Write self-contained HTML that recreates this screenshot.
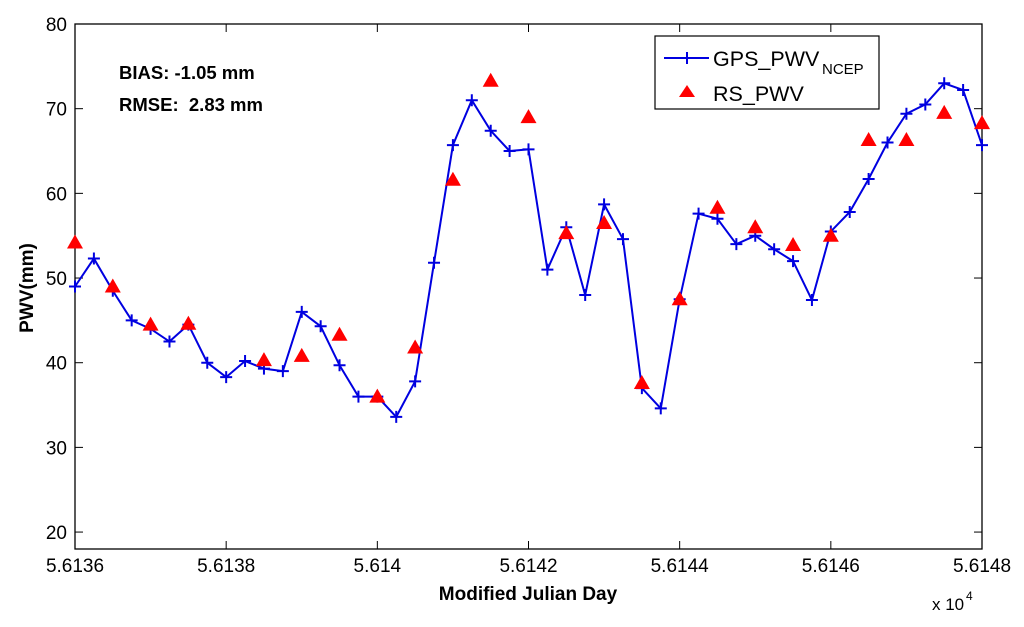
<!DOCTYPE html>
<html><head><meta charset="utf-8"><style>
body{margin:0;background:#fff;}
svg{display:block;font-family:"Liberation Sans",Arial,sans-serif;}
</style></head><body>
<svg id="chart" width="1024" height="627" viewBox="0 0 1024 627">
<rect x="0" y="0" width="1024" height="627" fill="#fff"/>
<g id="plot"></g>
</svg>
<script>
const gpsDays=[56136,56136.25,56136.5,56136.75,56137,56137.25,56137.5,56137.75,56138,56138.25,56138.5,56138.75,56139,56139.25,56139.5,56139.75,56140,56140.25,56140.5,56140.75,56141,56141.25,56141.5,56141.75,56142,56142.25,56142.5,56142.75,56143,56143.25,56143.5,56143.75,56144,56144.25,56144.5,56144.75,56145,56145.25,56145.5,56145.75,56146,56146.25,56146.5,56146.75,56147,56147.25,56147.5,56147.75,56148];
const gpsValues=[49,52.3,48.5,45,44,42.5,44.5,40,38.3,40.2,39.3,39,46,44.3,39.7,36,36,33.6,37.8,51.8,65.7,71,67.4,65,65.2,51,56,48,58.7,54.6,37,34.6,47.5,57.6,57,54,55,53.4,52,47.4,55.5,57.8,61.7,66,69.4,70.5,73,72.2,65.7];
const rsDays=[56136,56136.5,56137,56137.5,56138.5,56139,56139.5,56140,56140.5,56141,56141.5,56142,56142.5,56143,56143.5,56144,56144.5,56145,56145.5,56146,56146.5,56147,56147.5,56148];
const rsValues=[54.2,49,44.5,44.6,40.3,40.8,43.3,36,41.8,61.6,73.3,69,55.3,56.5,37.6,47.5,58.3,56,53.9,55,66.3,66.3,69.5,68.3];
const yTicks=[20,30,40,50,60,70,80];
const xTicks=[56136,56138,56140,56142,56144,56146,56148];
const xTickLabels=["5.6136","5.6138","5.614","5.6142","5.6144","5.6146","5.6148"];

const L=75,R=982,T=24,B=549,XMIN=56136,XMAX=56148,YMIN=18,YMAX=80;
const sx=d=>L+(d-XMIN)/(XMAX-XMIN)*(R-L);
const sy=v=>B-(v-YMIN)/(YMAX-YMIN)*(B-T);
const NS="http://www.w3.org/2000/svg";
const g=document.getElementById('plot');
function mk(t,a,txt){const e=document.createElementNS(NS,t);for(const k in a)e.setAttribute(k,a[k]);if(txt!==undefined)e.textContent=txt;g.appendChild(e);return e;}

let e=mk('rect',{x:L,y:T,width:R-L,height:B-T,fill:'none',stroke:'#000','stroke-width':1.3});


yTicks.forEach(v=>{
  const y=sy(v);
  let t=mk('line',{x1:L,x2:L+8,y1:y,y2:y,stroke:'#000'});
  
  
  mk('line',{x1:R-8,x2:R,y1:y,y2:y,stroke:'#000'});
  let l=mk('text',{x:L-8,y:y+7,'text-anchor':'end','font-size':19},String(v));
  
  
});
xTicks.forEach((d,i)=>{
  const x=sx(d);
  let t=mk('line',{x1:x,x2:x,y1:B,y2:B-8,stroke:'#000'});
  
  
  mk('line',{x1:x,x2:x,y1:T,y2:T+8,stroke:'#000'});
  let l=mk('text',{x:x,y:B+23,'text-anchor':'middle','font-size':19},xTickLabels[i]);
  
  
});
let xt=mk('text',{x:528,y:600,'text-anchor':'middle','font-size':19,'font-weight':'bold'},'Modified Julian Day');


let yt=mk('text',{x:0,y:0,'text-anchor':'middle','font-size':19,'font-weight':'bold',transform:'translate(33,288) rotate(-90)'},'PWV(mm)');


let ex=mk('text',{x:932,y:610,'font-size':17},'x 10');


mk('text',{x:966,y:600,'font-size':12},'4');
let b1=mk('text',{x:119,y:79,'font-size':18.5,'font-weight':'bold'},'BIAS: -1.05 mm');


let b2=mk('text',{x:119,y:111,'font-size':18.5,'font-weight':'bold','xml:space':'preserve'},'RMSE:  2.83 mm');


b2.style.whiteSpace='pre';

let pts=gpsDays.map((d,i)=>sx(d)+','+sy(gpsValues[i])).join(' ');
let pl=mk('polyline',{points:pts,fill:'none',stroke:'#0000e0','stroke-width':2});


gpsDays.forEach((d,i)=>{
  const x=sx(d),y=sy(gpsValues[i]);
  let p=mk('path',{d:`M${x-6},${y}H${x+6}M${x},${y-6}V${y+6}`,stroke:'#0000e0','stroke-width':2});
  
  
});
rsDays.forEach((d,i)=>{
  const x=sx(d),y=sy(rsValues[i]);
  let p=mk('path',{d:`M${x},${y-8}L${x+8},${y+6}L${x-8},${y+6}Z`,fill:'#ff0000'});
  
  
});
let lg=mk('rect',{x:655,y:36,width:224,height:73,fill:'#fff',stroke:'#000','stroke-width':1.2});


mk('line',{x1:664,x2:709,y1:58,y2:58,stroke:'#0000e0','stroke-width':2});
mk('path',{d:'M681,58H693M687,52V64',stroke:'#0000e0','stroke-width':2});
let le1=mk('text',{x:713,y:66,'font-size':21.5},'GPS_PWV');


mk('text',{x:822,y:74,'font-size':15},'NCEP');
mk('path',{d:'M687,85L695,97L679,97Z',fill:'#ff0000'});
let le2=mk('text',{x:713,y:101,'font-size':21.5},'RS_PWV');


</script>
</body></html>
